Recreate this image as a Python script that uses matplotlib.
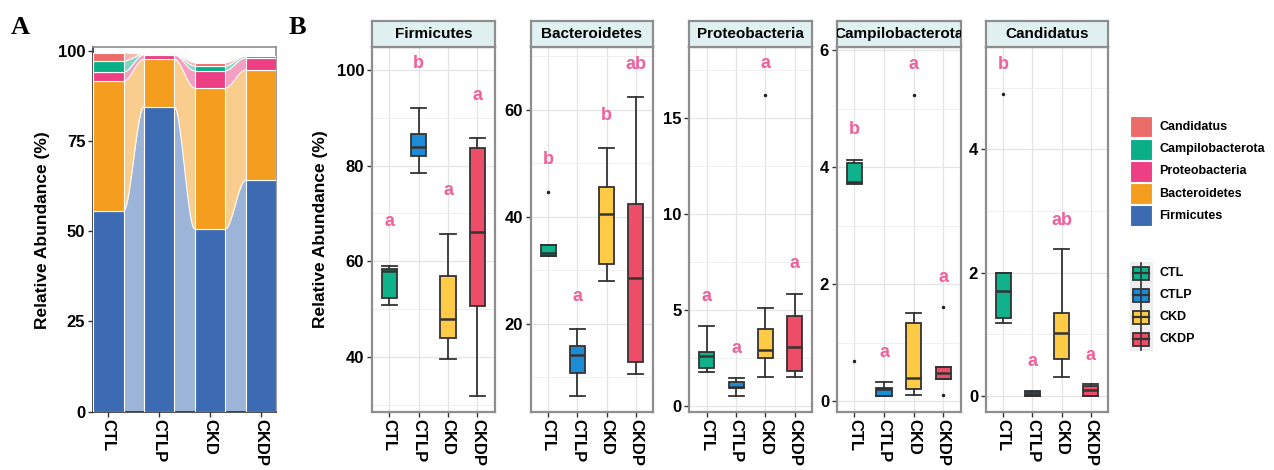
import numpy as np
import matplotlib.pyplot as plt
from matplotlib.patches import Rectangle
from matplotlib.lines import Line2D

plt.rcParams['font.family'] = ['Liberation Sans', 'DejaVu Sans']

W, H = 1274, 470

groups = ['CTL', 'CTLP', 'CKD', 'CKDP']
phyla = ['Firmicutes', 'Bacteroidetes', 'Proteobacteria', 'Campilobacterota', 'Candidatus']
phylum_colors = ['#3C6BB4', '#F59D1E', '#EC3F84', '#0AAE87', '#EC6C6A']
group_colors = ['#10B28C', '#1C8CD6', '#FDCB45', '#EE4D67']
letter_color = '#F0609B'

# mean relative abundance (%) per group, stacked bottom to top
firmicutes = [55.6, 84.5, 50.6, 64.1]
bacteroidetes = [36.0, 13.2, 39.1, 30.6]
proteobacteria = [2.5, 1.2, 4.8, 3.4]
campilobacterota = [3.1, 0.15, 1.3, 0.5]
candidatus = [2.3, 0.1, 1.0, 0.1]
abund = [firmicutes, bacteroidetes, proteobacteria, campilobacterota, candidatus]

# box stats per group: (whisker low, q1, median, q3, whisker high)
firm_box = [(50.8, 52.4, 58.0, 58.4, 59.0), (78.5, 82.1, 83.9, 86.6, 92.1),
            (39.6, 43.9, 47.9, 56.9, 65.7), (31.8, 50.6, 66.2, 83.8, 85.8)]
bact_box = [(32.7, 32.7, 33.3, 34.8, 34.8), (6.6, 10.8, 14.2, 15.8, 19.0),
            (28.0, 31.2, 40.6, 45.5, 52.8), (10.6, 12.8, 28.5, 42.4, 62.4)]
prot_box = [(1.75, 1.96, 2.60, 2.83, 4.16), (0.54, 0.92, 1.00, 1.26, 1.47),
            (1.52, 2.48, 2.91, 4.00, 5.08), (1.52, 1.84, 3.09, 4.68, 5.83)]
camp_box = [(3.72, 3.73, 3.75, 4.08, 4.13), (0.08, 0.09, 0.20, 0.23, 0.33),
            (0.11, 0.20, 0.40, 1.34, 1.50), (0.38, 0.38, 0.48, 0.59, 0.59)]
cand_box = [(1.18, 1.26, 1.70, 2.00, 2.00), (0.0, 0.0, 0.03, 0.065, 0.07),
            (0.31, 0.59, 1.02, 1.35, 2.38), (0.0, 0.0, 0.10, 0.15, 0.19)]

# outlying samples
firm_out = [[], [], [], []]
bact_out = [[44.7], [], [], []]
prot_out = [[], [], [16.2], []]
camp_out = [[0.69], [], [5.24], [1.61, 0.10]]
cand_out = [[4.90], [], [], []]

# significance letters and their heights
firm_sig = (['a', 'b', 'a', 'a'], [68.3, 101.4, 74.7, 94.6])
bact_sig = (['b', 'a', 'b', 'ab'], [50.8, 25.1, 58.9, 68.5])
prot_sig = (['a', 'a', 'a', 'a'], [5.69, 3.0, 17.8, 7.42])
camp_sig = (['b', 'a', 'a', 'a'], [4.64, 0.83, 5.76, 2.11])
cand_sig = (['b', 'a', 'ab', 'a'], [5.38, 0.55, 2.85, 0.65])

facets = [
    ('Firmicutes', firm_box, firm_out, firm_sig, (28.5, 104.9), [40, 60, 80, 100], [30, 50, 70, 90]),
    ('Bacteroidetes', bact_box, bact_out, bact_sig, (3.6, 71.8), [20, 40, 60], [10, 30, 50, 70]),
    ('Proteobacteria', prot_box, prot_out, prot_sig, (-0.3, 18.69), [0, 5, 10, 15], [2.5, 7.5, 12.5, 17.5]),
    ('Campilobacterota', camp_box, camp_out, camp_sig, (-0.18, 6.06), [0, 2, 4, 6], [1, 3, 5]),
    ('Candidatus', cand_box, cand_out, cand_sig, (-0.26, 5.67), [0, 2, 4], [1, 3, 5]),
]
facet_x = [(371.7, 495), (530.7, 653.3), (689.3, 812.3), (836.7, 961), (985.7, 1108.3)]

border = '#8E8E8E'
ink = '#333333'


def px_axes(fig, x0, y0, x1, y1):
    return fig.add_axes([x0 / W, 1 - y1 / H, (x1 - x0) / W, (y1 - y0) / H])


fig = plt.figure(figsize=(W / 100, H / 100), dpi=100)

# ---- A: stacked bars with alluvial ribbons
axA = px_axes(fig, 93, 47, 276, 411.5)
xs = np.arange(len(groups))
bw = 0.6
cum = np.vstack([np.zeros(4), np.cumsum(abund, axis=0)])
t = np.linspace(0, 1, 60)
s = 3 * t ** 2 - 2 * t ** 3
for k, col in enumerate(phylum_colors):
    lo, hi = cum[k], cum[k + 1]
    axA.bar(xs, hi - lo, bottom=lo, width=bw, color=col, edgecolor='white', linewidth=0.8, zorder=3)
    for i in range(len(groups) - 1):
        xx = xs[i] + bw / 2 + t * (1 - bw)
        y0 = lo[i] + (lo[i + 1] - lo[i]) * s
        y1 = hi[i] + (hi[i + 1] - hi[i]) * s
        axA.fill_between(xx, y0, y1, color=col, alpha=0.5, linewidth=0, zorder=2)
        axA.plot(xx, y1, color='white', lw=0.8, zorder=2.5)
axA.set_xlim(-0.3, 3.3)
axA.set_ylim(0, 101.1)
axA.set_yticks([0, 25, 50, 75, 100])
axA.set_xticks(xs)
axA.set_xticklabels(groups, rotation=-90, fontweight='bold', fontsize=12)
for lab in axA.get_yticklabels():
    lab.set_fontweight('bold')
    lab.set_fontsize(12)
axA.tick_params(length=3.5, width=1, color=ink, pad=2)
for sp in axA.spines.values():
    sp.set_color(border)
    sp.set_linewidth(1.2)
axA.spines['left'].set_color(ink)
axA.spines['bottom'].set_color(ink)
fig.text(43 / W, 1 - 230 / H, 'Relative Abundance (%)', rotation=90, ha='center', va='center',
         fontsize=12.5, fontweight='bold')

# ---- B: faceted boxplots
for (name, boxes, outs, sig, ylim, ticks, minors), (x0, x1) in zip(facets, facet_x):
    ax = px_axes(fig, x0, 46.7, x1, 411.7)
    stats = [dict(whislo=b[0], q1=b[1], med=b[2], q3=b[3], whishi=b[4], fliers=f)
             for b, f in zip(boxes, outs)]
    bp = ax.bxp(stats, positions=xs + 1, widths=0.52, capwidths=0.52, patch_artist=True,
                boxprops=dict(edgecolor=ink, linewidth=1.3, zorder=3),
                medianprops=dict(color=ink, linewidth=1.8, zorder=4),
                whiskerprops=dict(color=ink, linewidth=1.3, zorder=3),
                capprops=dict(color=ink, linewidth=1.3, zorder=3),
                flierprops=dict(marker='o', markersize=1.5, markerfacecolor='#222222',
                                markeredgecolor='#222222', zorder=3))
    for patch, col in zip(bp['boxes'], group_colors):
        patch.set_facecolor(col)
    for i, (lab, yv) in enumerate(zip(*sig)):
        ax.text(i + 1, yv, lab, color=letter_color, fontsize=13, fontweight='bold',
                ha='center', va='center')
    ax.set_xlim(0.4, 4.6)
    ax.set_yticks(ticks)
    ax.set_yticks(minors, minor=True)
    ax.set_ylim(*ylim)
    ax.set_xticks(xs + 1)
    ax.set_xticklabels(groups, rotation=-90, fontweight='bold', fontsize=12)
    for lab in ax.get_yticklabels():
        lab.set_fontweight('bold')
        lab.set_fontsize(12)
    ax.tick_params(length=3.5, width=1, color=ink, pad=2)
    ax.tick_params(which='minor', length=0)
    ax.grid(True, which='major', color='#E4E4E4', lw=0.9)
    ax.grid(True, which='minor', axis='y', color='#EEEEEE', lw=0.6)
    ax.set_axisbelow(True)
    for sp in ax.spines.values():
        sp.set_color(border)
        sp.set_linewidth(1.6)

    st = px_axes(fig, x0, 20.7, x1, 46.7)
    st.set_facecolor('#E1F1F2')
    st.set_xticks([])
    st.set_yticks([])
    for sp in st.spines.values():
        sp.set_color(border)
        sp.set_linewidth(1.6)
    st.text(0.5, 0.5, name, transform=st.transAxes, ha='center', va='center',
            fontsize=11, fontweight='bold', clip_on=True)

fig.text(320 / W, 1 - 229 / H, 'Relative Abundance (%)', rotation=90, ha='center', va='center',
         fontsize=12.5, fontweight='bold')

# ---- legends, drawn in pixel space
leg = fig.add_axes([0, 0, 1, 1], zorder=5)
leg.set_xlim(0, W)
leg.set_ylim(H, 0)
leg.axis('off')
leg.patch.set_alpha(0)

fill_rows = [126.7, 149.0, 171.2, 193.6, 215.8]
for name, col, yc in zip(phyla[::-1], phylum_colors[::-1], fill_rows):
    leg.add_patch(Rectangle((1130, yc - 10.5), 22, 21, facecolor=col, edgecolor='white', lw=0.8))
    leg.text(1159.5, yc, name, fontsize=9, fontweight='bold', ha='left', va='center')

box_rows = [273.3, 295.3, 317.3, 339.3]
leg.add_patch(Rectangle((1129.5, 262), 23, 88.5, facecolor='#EEEEEE', edgecolor='none'))
for name, col, yc in zip(groups, group_colors, box_rows):
    leg.add_line(Line2D([1141, 1141], [yc - 10.5, yc + 10.5], color=ink, lw=1.2))
    leg.add_patch(Rectangle((1133, yc - 6.5), 16, 13, facecolor=col, edgecolor=ink, lw=1.3))
    leg.add_line(Line2D([1133, 1149], [yc, yc], color=ink, lw=1.6))
    leg.text(1159.5, yc, name, fontsize=9, fontweight='bold', ha='left', va='center')

# panel tags
fig.text(11 / W, 1 - 34 / H, 'A', family='Liberation Serif', fontsize=19, fontweight='bold')
fig.text(289 / W, 1 - 34 / H, 'B', family='Liberation Serif', fontsize=19, fontweight='bold')

fig.savefig('out.png', dpi=100)
